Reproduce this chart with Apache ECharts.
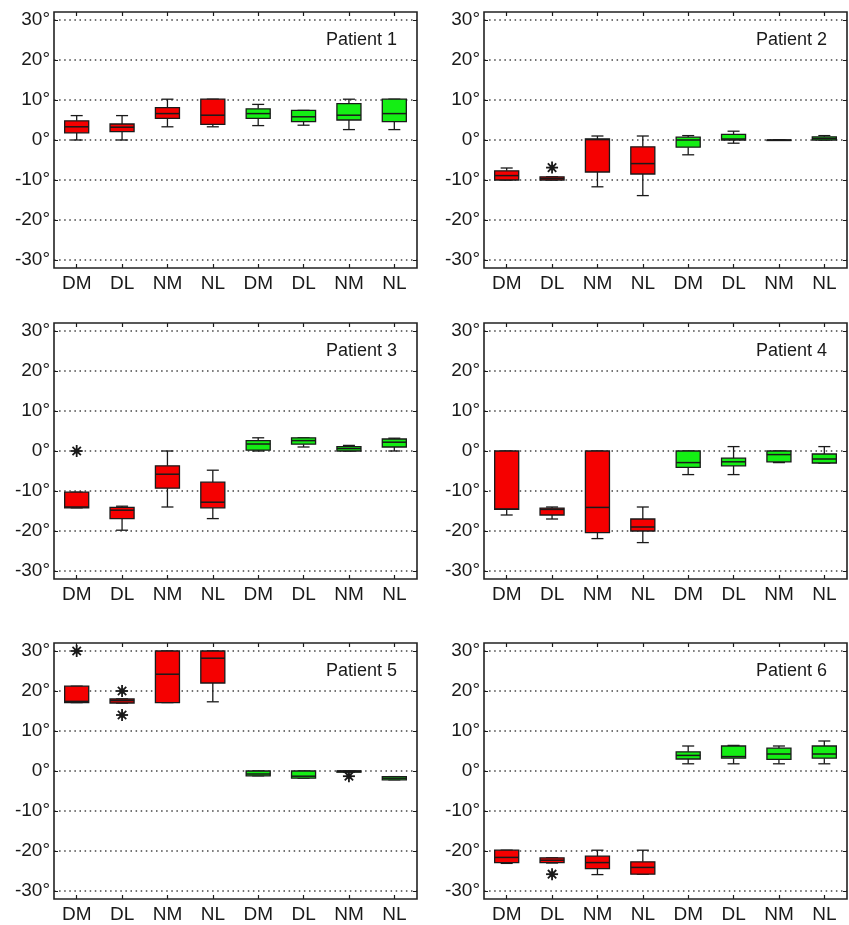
<!DOCTYPE html>
<html>
<head>
<meta charset="utf-8">
<script src="https://cdn.jsdelivr.net/npm/echarts@6/dist/echarts.min.js"></script>
<style>
  html, body { margin: 0; padding: 0; background: #fff; }
  #chart { width: 849px; height: 925px; }
</style>
</head>
<body>
<div id="chart"></div>
<script>
// categories: first four = red group, last four = green group
const categories = ['DM', 'DL', 'NM', 'NL', 'DM', 'DL', 'NM', 'NL']
const yTicks = [-30, -20, -10, 0, 10, 20, 30]
const titles = ['Patient 1', 'Patient 2', 'Patient 3', 'Patient 4', 'Patient 5', 'Patient 6']

// each box: [min, q1, median, q3, max]
const patient1 = [
  [0, 1.8, 3.3, 4.8, 6.1], [0, 2.1, 3.2, 4.0, 6.1], [3.3, 5.4, 6.6, 8.1, 10.2], [3.3, 3.9, 6.2, 10.2, 10.2],
  [3.6, 5.4, 6.6, 7.8, 8.9], [3.7, 4.6, 5.8, 7.4, 7.4], [2.6, 5.0, 6.2, 9.1, 10.2], [2.6, 4.6, 6.6, 10.2, 10.2]
]
const patient2 = [
  [-10, -10, -8.9, -7.7, -7.0], [-10, -10, -9.6, -9.2, -9.2], [-11.7, -8.0, 0.1, 0.25, 1.0], [-13.9, -8.5, -5.9, -1.7, 1.0],
  [-3.7, -1.8, 0, 0.7, 1.1], [-0.8, 0, 0.25, 1.4, 2.2], [0, 0, 0, 0, 0], [0, 0, 0.4, 0.8, 1.1]
]
const patient3 = [
  [-14.2, -14.2, -14.0, -10.3, -10.3], [-19.8, -16.9, -14.8, -14.1, -13.8], [-14, -9.3, -5.8, -3.7, 0], [-16.9, -14.2, -12.8, -7.8, -4.8],
  [0, 0.2, 1.75, 2.6, 3.3], [1.0, 1.7, 2.6, 3.3, 3.3], [0, 0, 0.6, 1.1, 1.4], [0, 1.0, 2.2, 3.0, 3.2]
]
const patient4 = [
  [-16, -14.6, -14.5, 0, 0], [-17, -16, -14.6, -14.3, -14], [-21.9, -20.4, -14.1, 0, 0], [-22.9, -20, -19, -17, -14],
  [-5.9, -4.1, -2.9, 0, 0], [-5.9, -3.7, -2.7, -1.8, 1.1], [-2.9, -2.7, -0.9, 0, 0], [-3.0, -3.0, -2.0, -0.75, 1.1]
]
const patient5 = [
  [17.1, 17.1, 17.4, 21.2, 21.2], [17.0, 17.0, 17.6, 18.0, 18.0], [17.1, 17.1, 24.2, 30, 30], [17.3, 22, 28.2, 30, 30],
  [-1.2, -1.2, -0.75, 0, 0], [-1.8, -1.8, -1.3, 0, 0], [-0.3, -0.3, 0, 0, 0], [-2.2, -2.2, -1.8, -1.4, -1.4]
]
const patient6 = [
  [-23.1, -22.9, -21.6, -19.8, -19.8], [-23.0, -22.9, -22.3, -21.7, -21.7], [-25.9, -24.4, -22.9, -21.3, -19.8], [-25.8, -25.8, -24.1, -22.7, -19.8],
  [1.8, 3.0, 3.9, 4.8, 6.25], [1.8, 3.2, 3.6, 6.25, 6.4], [1.8, 2.9, 4.25, 5.7, 6.25], [1.8, 3.2, 4.25, 6.25, 7.5]
]

// outliers: [category index, value]
const outliers1 = []
const outliers2 = [[1, -6.9]]
const outliers3 = [[0, 0]]
const outliers4 = []
const outliers5 = [[0, 30], [1, 20], [1, 14], [6, -1.3]]
const outliers6 = [[1, -25.8]]

const boxes = [patient1, patient2, patient3, patient4, patient5, patient6]
const outliers = [outliers1, outliers2, outliers3, outliers4, outliers5, outliers6]

const RED = '#f50000'
const GREEN = '#14ee14'
const INK = '#1a1a1a'
const FONT = "'Liberation Sans', Arial, sans-serif"

const gridLefts = [54, 484]
const gridTops = [12, 323, 643]
const PAD = 8 // frame sits 8px (2 degrees) outside the +/-30 range

let chart = echarts.init(document.getElementById('chart'))

function renderBox(params, api) {
  let x = api.value(0)
  let lo = api.coord([x, api.value(1)])
  let q1 = api.coord([x, api.value(2)])
  let med = api.coord([x, api.value(3)])
  let q3 = api.coord([x, api.value(4)])
  let hi = api.coord([x, api.value(5)])
  let w = api.size([1, 0])[0] * 0.53
  let cap = w / 2
  let cx = lo[0]
  let line = { stroke: INK, lineWidth: 1.3 }
  return {
    type: 'group',
    children: [
      { type: 'line', shape: { x1: cx, y1: q3[1], x2: cx, y2: hi[1] }, style: line },
      { type: 'line', shape: { x1: cx, y1: q1[1], x2: cx, y2: lo[1] }, style: line },
      { type: 'line', shape: { x1: cx - cap / 2, y1: hi[1], x2: cx + cap / 2, y2: hi[1] }, style: line },
      { type: 'line', shape: { x1: cx - cap / 2, y1: lo[1], x2: cx + cap / 2, y2: lo[1] }, style: line },
      {
        type: 'rect',
        shape: { x: cx - w / 2, y: q3[1], width: w, height: Math.max(q1[1] - q3[1], 0.5) },
        style: { fill: x < 4 ? RED : GREEN, stroke: INK, lineWidth: 1.3 }
      },
      { type: 'line', shape: { x1: cx - w / 2, y1: med[1], x2: cx + w / 2, y2: med[1] }, style: { stroke: INK, lineWidth: 1.5 } }
    ]
  }
}

function renderStar(params, api) {
  let p = api.coord([api.value(0), api.value(1)])
  let r = 6
  let d = r * 0.7
  let st = { stroke: INK, lineWidth: 1.8 }
  return {
    type: 'group',
    children: [
      { type: 'line', shape: { x1: p[0] - r, y1: p[1], x2: p[0] + r, y2: p[1] }, style: st },
      { type: 'line', shape: { x1: p[0], y1: p[1] - r, x2: p[0], y2: p[1] + r }, style: st },
      { type: 'line', shape: { x1: p[0] - d, y1: p[1] - d, x2: p[0] + d, y2: p[1] + d }, style: st },
      { type: 'line', shape: { x1: p[0] - d, y1: p[1] + d, x2: p[0] + d, y2: p[1] - d }, style: st },
      { type: 'circle', shape: { cx: p[0], cy: p[1], r: 2.6 }, style: { fill: INK } }
    ]
  }
}

let grid = [], xAxis = [], yAxis = [], series = [], title = []
for (let i = 0; i < 6; i++) {
  let left = gridLefts[i % 2]
  let top = gridTops[Math.floor(i / 2)]
  let frameIdx = grid.length
  // frame grid: just the black box, hidden axes
  grid.push({ left: left, top: top, width: 363, height: 256, show: true, borderColor: '#222', borderWidth: 1.6, backgroundColor: 'transparent', z: 5 })
  xAxis.push({ type: 'value', gridIndex: frameIdx, show: false })
  yAxis.push({ type: 'value', gridIndex: frameIdx, show: false })
  let dataIdx = grid.length
  grid.push({ left: left, top: top + PAD, width: 363, height: 256 - 2 * PAD, show: false })
  title.push({
    text: titles[i],
    right: 849 - left - 363 + 20,
    top: top + 19,
    padding: 0,
    textStyle: { fontFamily: FONT, fontSize: 18, fontWeight: 'normal', color: INK }
  })
  let xIdx = xAxis.length
  // bottom and top category axes, pushed out onto the frame
  xAxis.push({
    type: 'category', gridIndex: dataIdx, data: categories, boundaryGap: true, position: 'bottom', offset: PAD,
    axisLine: { show: false, onZero: false },
    axisTick: { show: true, inside: true, alignWithLabel: true, length: 4, lineStyle: { color: INK, width: 1.2 } },
    axisLabel: { fontFamily: FONT, fontSize: 19, color: INK, margin: 6, interval: 0 }
  })
  xAxis.push({
    type: 'category', gridIndex: dataIdx, data: categories, boundaryGap: true, position: 'top', offset: PAD,
    axisLine: { show: false, onZero: false },
    axisTick: { show: true, inside: true, alignWithLabel: true, length: 4, lineStyle: { color: INK, width: 1.2 } },
    axisLabel: { show: false }
  })
  let yIdx = yAxis.length
  yAxis.push({
    type: 'value', gridIndex: dataIdx, min: -30, max: 30, interval: 10, position: 'left',
    axisLine: { show: false, onZero: false },
    axisTick: { show: true, inside: true, length: 4, lineStyle: { color: INK } },
    axisLabel: {
      fontFamily: FONT, fontSize: 19, color: INK, margin: 4,
      formatter: v => (yTicks.indexOf(v) >= 0 ? v + '°' : '')
    },
    splitLine: { show: true, lineStyle: { color: '#444', width: 1.5, type: [1.5, 3.6] } }
  })
  yAxis.push({
    type: 'value', gridIndex: dataIdx, min: -30, max: 30, interval: 10, position: 'right',
    axisLine: { show: false, onZero: false },
    axisTick: { show: true, inside: true, length: 4, lineStyle: { color: INK } },
    axisLabel: { show: false },
    splitLine: { show: false }
  })
  series.push({
    type: 'custom',
    xAxisIndex: xIdx,
    yAxisIndex: yIdx,
    renderItem: renderBox,
    encode: { x: 0, y: [1, 2, 3, 4, 5] },
    data: boxes[i].map((b, k) => [k].concat(b)),
    z: 3
  })
  series.push({
    type: 'custom',
    xAxisIndex: xIdx,
    yAxisIndex: yIdx,
    renderItem: renderStar,
    encode: { x: 0, y: 1 },
    data: outliers[i],
    z: 4
  })
}

chart.setOption({
  animation: false,
  backgroundColor: '#fff',
  title: title,
  grid: grid,
  xAxis: xAxis,
  yAxis: yAxis,
  series: series
})
</script>
</body>
</html>
